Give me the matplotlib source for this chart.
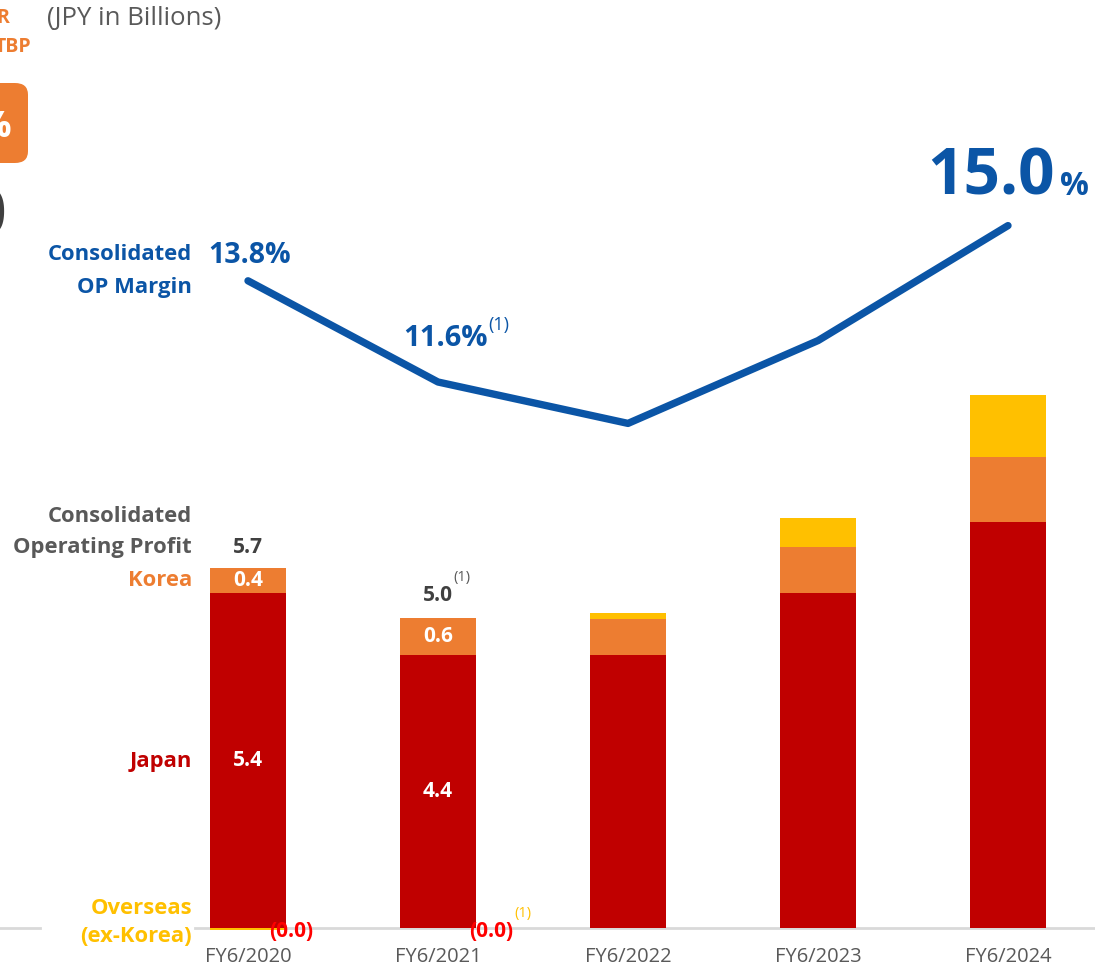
import numpy as np
import matplotlib.pyplot as plt
from matplotlib.patches import FancyBboxPatch

plt.rcParams["font.family"] = ["Open Sans", "DejaVu Sans"]

W, H = 1095, 967

years = ["FY6/2020", "FY6/2021", "FY6/2022", "FY6/2023", "FY6/2024"]
japan = [5.4, 4.4, 4.4, 5.4, 6.55]
korea = [0.4, 0.6, 0.58, 0.74, 1.05]
overseas = [-0.03, 0.0, 0.1, 0.48, 1.0]
op_margin = [13.8, 11.6, 10.7, 12.5, 15.0]

red = "#C00000"
orange = "#ED7D31"
yellow = "#FFC000"
blue = "#0B55A6"
grey_txt = "#595959"
dark_txt = "#404040"

fig = plt.figure(figsize=(W / 100, H / 100), dpi=100)


def px(x, y):
    # pixel position (from top-left) -> figure fraction
    return x / W, 1 - y / H


# bars: one unit of x per year, 62 px per JPY bn
ax = fig.add_axes([0, 0, 1, 1])
ax.set_xlim(-248 / 190, (W - 248) / 190)
ax.set_ylim(-39 / 62, (H - 39) / 62)
ax.axis("off")

x = np.arange(len(years))
bw = 76 / 190
japan = np.array(japan)
korea = np.array(korea)
overseas = np.array(overseas)
ov_base = np.where(overseas < 0, 0, japan + korea)
ax.bar(x, japan, width=bw, color=red, zorder=2)
ax.bar(x, korea, width=bw, bottom=japan, color=orange, zorder=2)
ax.bar(x, overseas, width=bw, bottom=ov_base, color=yellow, zorder=2)

# baseline
ax.plot([-248 / 190, -208 / 190], [0, 0], color="#D9D9D9", lw=2, zorder=1)
ax.plot([-53 / 190, 4.46], [0, 0], color="#D9D9D9", lw=2, zorder=1)

# year labels
for i, yr in enumerate(years):
    ax.text(i, -0.47, yr, ha="center", va="center", fontsize=14.5, color=grey_txt)

# values inside and above bars
lbl = dict(ha="center", va="center", fontsize=15, fontweight="bold")
ax.text(0, japan[0] / 2, f"{japan[0]:.1f}", color="white", **lbl)
ax.text(1, japan[1] / 2, f"{japan[1]:.1f}", color="white", **lbl)
ax.text(0, japan[0] + korea[0] / 2, f"{korea[0]:.1f}", color="white", **lbl)
ax.text(1, japan[1] + korea[1] / 2, f"{korea[1]:.1f}", color="white", **lbl)
ax.text(0, japan[0] + korea[0] + 0.34, "5.7", color=dark_txt, **lbl)
ax.text(1, japan[1] + korea[1] + 0.36, "5.0", color=dark_txt, **lbl)
ax.text(1.08, japan[1] + korea[1] + 0.65, "(1)", color=grey_txt, fontsize=10.5,
        ha="left", va="center")
ax.text(0.226, -0.05, "(0.0)", color="#FF0000", **lbl)
ax.text(1.279, -0.05, "(0.0)", color="#FF0000", **lbl)
ax.text(1.4, 0.23, "(1)", color=yellow, fontsize=10.5, ha="left", va="center")

# margin line on its own scale
ax2 = fig.add_axes([0, 0, 1, 1], sharex=ax)
ax2.set_ylim(11.6 - 585 / 46, 11.6 + 382 / 46)
ax2.axis("off")
ax2.plot(x, op_margin, color=blue, lw=5.3, solid_capstyle="round",
         solid_joinstyle="round", zorder=3)

ax2.text(0.01, op_margin[0] + 0.55, f"{op_margin[0]:.1f}%", color=blue, fontsize=20.5,
         fontweight="bold", ha="center", va="center")
ax2.text(1.037, op_margin[1] + 0.94, f"{op_margin[1]:.1f}%", color=blue, fontsize=21,
         fontweight="bold", ha="center", va="center")
ax2.text(1.263, op_margin[1] + 1.23, "(1)", color=blue, fontsize=13,
         ha="left", va="center")
ax2.text(3.91, op_margin[4] + 1.03, f"{op_margin[4]:.1f}", color=blue, fontsize=46,
         fontweight="bold", ha="center", va="center")
ax2.text(4.274, op_margin[4] + 0.86, "%", color=blue, fontsize=23,
         fontweight="bold", ha="left", va="center")

# row captions on the left
cap = dict(ha="right", va="center", fontsize=15.8, fontweight="bold")
fig.text(*px(192, 255), "Consolidated", color=blue, **cap)
fig.text(*px(192, 287), "OP Margin", color=blue, **cap)
fig.text(*px(192, 516), "Consolidated", color=grey_txt, **cap)
fig.text(*px(192, 548), "Operating Profit", color=grey_txt, **cap)
fig.text(*px(192, 581), "Korea", color=orange, **cap)
fig.text(*px(192, 761), "Japan", color=red, **cap)
fig.text(*px(192, 909), "Overseas", color=yellow, **cap)
fig.text(*px(192, 937), "(ex-Korea)", color=yellow, **cap)

fig.text(*px(47, 18), "(JPY in Billions)", color=grey_txt, fontsize=18.5,
         ha="left", va="center")

# edge of the neighbouring panel
fig.text(*px(9, 18), "R", color=orange, fontsize=14, fontweight="bold",
         ha="right", va="center")
fig.text(*px(31, 47), "TBP", color=orange, fontsize=14, fontweight="bold",
         ha="right", va="center")
box = FancyBboxPatch((-60 / W, 1 - 163 / H), 88 / W, 80 / H,
                     boxstyle="round,pad=0,rounding_size=0.012",
                     transform=fig.transFigure, facecolor=orange,
                     edgecolor="none")
fig.patches.append(box)
fig.text(*px(11, 128), "%", color="white", fontsize=26, fontweight="bold",
         ha="right", va="center")
fig.text(*px(6, 218), "0", color=dark_txt, fontsize=46, fontweight="bold",
         ha="right", va="center")

fig.savefig("out.png", dpi=100)
